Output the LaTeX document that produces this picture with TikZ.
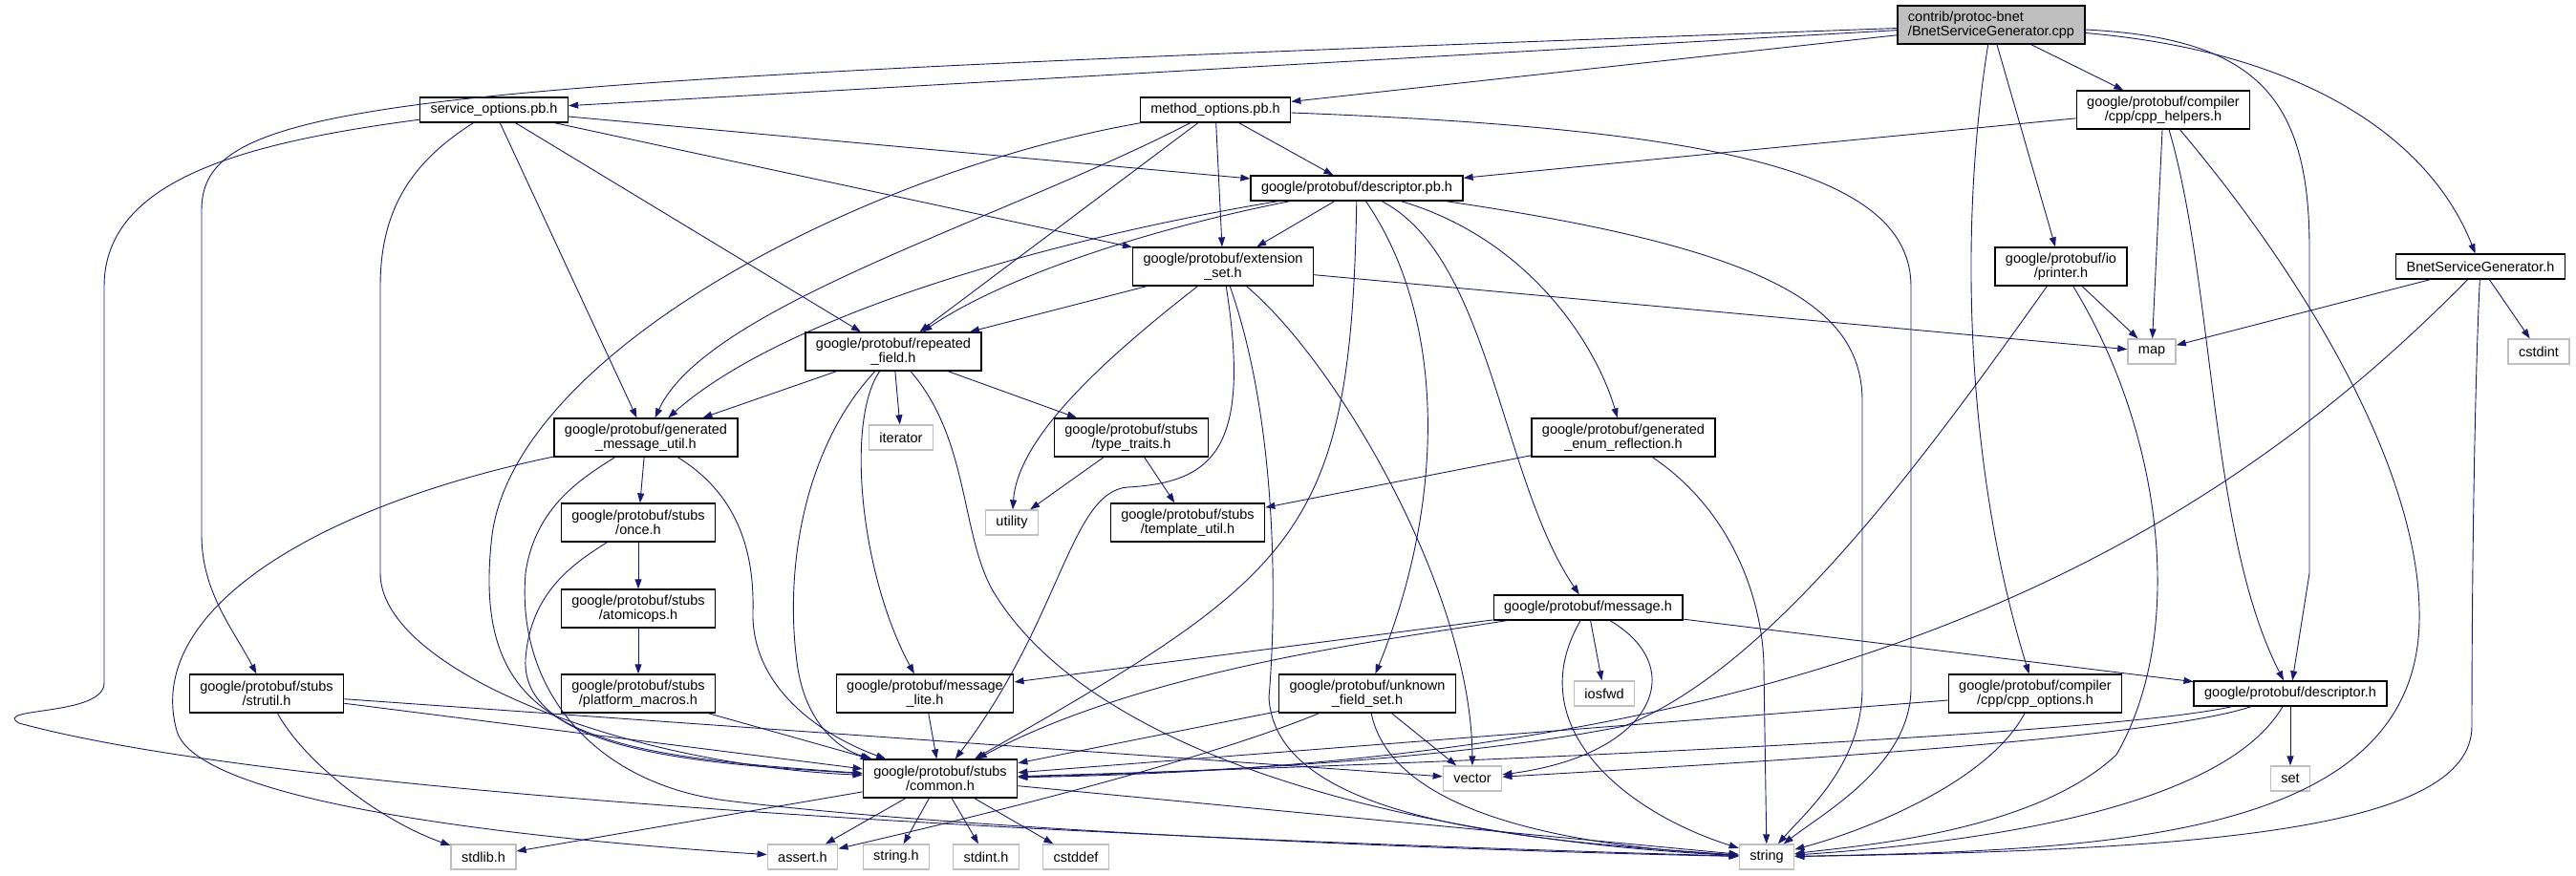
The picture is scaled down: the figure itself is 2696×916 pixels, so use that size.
\documentclass[tikz,border=0pt]{standalone}
\usepackage{fontspec}
\setmainfont{Liberation Sans}
\usetikzlibrary{arrows.meta}
\definecolor{incblue}{HTML}{191970}
\definecolor{sysgray}{HTML}{BFBFBF}
\begin{document}
\begin{tikzpicture}[x=1pt,y=-1pt,
  hdr/.style={draw=black,line width=1.3pt,fill=white,align=center,
    font=\fontsize{14.5}{15}\selectfont,inner xsep=11pt,inner ysep=2pt,
    minimum height=26pt},
  tall/.style={minimum height=40pt},
  sys/.style={hdr,draw=sysgray},
  inc/.style={draw=incblue,line width=0.9pt,-{Triangle[length=10pt,width=7pt]}}]
\useasboundingbox (0,0) rectangle (2696,916);

\node[hdr,tall,fill=sysgray,align=left] (root) at (2084,26) {contrib/protoc-bnet\\/BnetServiceGenerator.cpp};
\node[hdr] (svc) at (517,115) {service\_options.pb.h};
\node[hdr] (mth) at (1272,115) {method\_options.pb.h};
\node[hdr,tall] (cpph) at (2264,115) {google/protobuf/compiler\\/cpp/cpp\_helpers.h};
\node[hdr] (dpb) at (1420,197) {google/protobuf/descriptor.pb.h};
\node[hdr,tall] (ext) at (1280,279) {google/protobuf/extension\\\_set.h};
\node[hdr,tall] (prn) at (2157,279) {google/protobuf/io\\/printer.h};
\node[hdr] (bnh) at (2596,279) {BnetServiceGenerator.h};
\node[hdr,tall] (rep) at (935,368) {google/protobuf/repeated\\\_field.h};
\node[sys] (map) at (2252,368) {map};
\node[sys] (cstdint) at (2657,368) {cstdint};
\node[hdr,tall] (gmu) at (676,458) {google/protobuf/generated\\\_message\_util.h};
\node[sys] (iter) at (943,458) {iterator};
\node[hdr,tall] (tt) at (1184,458) {google/protobuf/stubs\\/type\_traits.h};
\node[hdr,tall] (enr) at (1699,458) {google/protobuf/generated\\\_enum\_reflection.h};
\node[hdr,tall] (once) at (668,547) {google/protobuf/stubs\\/once.h};
\node[sys] (util) at (1059,547) {utility};
\node[hdr,tall] (tu) at (1243,547) {google/protobuf/stubs\\/template\_util.h};
\node[hdr,tall] (atom) at (668,637) {google/protobuf/stubs\\/atomicops.h};
\node[hdr] (msg) at (1662,636) {google/protobuf/message.h};
\node[hdr,tall] (strutil) at (279,726) {google/protobuf/stubs\\/strutil.h};
\node[hdr,tall] (plat) at (668,726) {google/protobuf/stubs\\/platform\_macros.h};
\node[hdr,tall] (mlite) at (968,726) {google/protobuf/message\\\_lite.h};
\node[hdr,tall] (ufs) at (1431,726) {google/protobuf/unknown\\\_field\_set.h};
\node[sys] (iosfwd) at (1679,726) {iosfwd};
\node[hdr,tall] (cppo) at (2130,726) {google/protobuf/compiler\\/cpp/cpp\_options.h};
\node[hdr] (dh) at (2397,726) {google/protobuf/descriptor.h};
\node[hdr,tall] (common) at (984,815) {google/protobuf/stubs\\/common.h};
\node[sys] (vector) at (1541,815) {vector};
\node[sys] (set) at (2397,815) {set};
\node[sys] (stdlib) at (506,897) {stdlib.h};
\node[sys] (assert) at (840,897) {assert.h};
\node[sys] (stringh) at (938,897) {string.h};
\node[sys] (stdint) at (1032,897) {stdint.h};
\node[sys] (cstddef) at (1126,897) {cstddef};
\node[sys] (string) at (1849,897) {string};

\draw[inc] (root) -- (svc);
\draw[inc] (root) -- (mth);
\draw[inc] (root) .. controls (420,86) and (211,100) .. (211,220) -- (211,560) .. controls (211,620) and (245,660) .. (strutil);
\draw[inc] (root) .. controls (2048,250) and (2060,500) .. (cppo);
\draw[inc] (root) -- (prn);
\draw[inc] (root) -- (cpph);
\draw[inc] (root) .. controls (2360,40) and (2417,100) .. (2417,260) -- (2417,600) -- (dh);
\draw[inc] (root) .. controls (2420,55) and (2545,150) .. (bnh);

\draw[inc] (svc) -- (dpb);
\draw[inc] (svc) -- (ext);
\draw[inc] (svc) -- (rep);
\draw[inc] (svc) -- (gmu);
\draw[inc] (svc) .. controls (430,170) and (398,220) .. (398,300) -- (398,600) .. controls (398,700) and (650,800) .. (common);
\draw[inc] (svc) .. controls (250,150) and (109,190) .. (109,300) -- (109,715) .. controls (109,750) and (-10,740) .. (20,757) .. controls (250,820) and (900,870) .. (string);

\draw[inc] (mth) -- (dpb);
\draw[inc] (mth) -- (ext);
\draw[inc] (mth) -- (rep);
\draw[inc] (mth) .. controls (1050,230) and (740,320) .. (gmu);
\draw[inc] (mth) .. controls (900,180) and (540,370) .. (515,560) .. controls (490,770) and (620,790) .. (common);
\draw[inc] (mth) .. controls (1800,135) and (2000,180) .. (2000,300) -- (2000,720) .. controls (2000,800) and (1910,850) .. (string);

\draw[inc] (cpph) -- (dpb);
\draw[inc] (cpph) -- (map);
\draw[inc] (cpph) .. controls (2318,300) and (2312,560) .. (dh);
\draw[inc] (cpph) .. controls (2420,300) and (2535,500) .. (2532,650) .. controls (2528,880) and (2200,890) .. (string);

\draw[inc] (dpb) -- (ext);
\draw[inc] (dpb) .. controls (1200,240) and (1050,290) .. (rep);
\draw[inc] (dpb) .. controls (1100,250) and (820,330) .. (gmu);
\draw[inc] (dpb) .. controls (1414,560) and (1360,600) .. (common);
\draw[inc] (dpb) .. controls (1560,270) and (1570,500) .. (msg);
\draw[inc] (dpb) .. controls (1512,330) and (1515,520) .. (ufs);
\draw[inc] (dpb) .. controls (1600,250) and (1670,360) .. (enr);
\draw[inc] (dpb) .. controls (1850,260) and (1949,320) .. (1949,420) -- (1949,720) .. controls (1949,800) and (1890,850) .. (string);

\draw[inc] (ext) -- (rep);
\draw[inc] (ext) -- (map);
\draw[inc] (ext) .. controls (1150,380) and (1065,460) .. (util);
\draw[inc] (ext) .. controls (1310,470) and (1270,505) .. (1180,510) .. controls (1120,515) and (1110,650) .. (common);
\draw[inc] (ext) .. controls (1340,450) and (1335,650) .. (1328,730) .. controls (1335,860) and (1600,880) .. (string);
\draw[inc] (ext) .. controls (1400,380) and (1540,620) .. (vector);

\draw[inc] (prn) -- (map);
\draw[inc] (prn) .. controls (2000,500) and (1850,700) .. (1700,760) .. controls (1500,800) and (1200,810) .. (common);
\draw[inc] (prn) .. controls (2262,450) and (2290,660) .. (2215,790) .. controls (2130,870) and (1950,885) .. (string);

\draw[inc] (bnh) -- (map);
\draw[inc] (bnh) -- (cstdint);
\draw[inc] (bnh) .. controls (2300,580) and (1900,800) .. (common);
\draw[inc] (bnh) .. controls (2590,400) and (2587,600) .. (2587,760) .. controls (2587,870) and (2300,890) .. (string);

\draw[inc] (rep) -- (gmu);
\draw[inc] (rep) -- (iter);
\draw[inc] (rep) -- (tt);
\draw[inc] (rep) .. controls (885,440) and (900,600) .. (mlite);
\draw[inc] (rep) .. controls (840,470) and (820,600) .. (835,700) .. controls (845,760) and (880,785) .. (common);
\draw[inc] (rep) .. controls (1015,460) and (1005,560) .. (1040,620) .. controls (1150,800) and (1500,880) .. (string);

\draw[inc] (gmu) -- (once);
\draw[inc] (gmu) .. controls (760,510) and (790,560) .. (788,640) .. controls (786,720) and (860,770) .. (common);
\draw[inc] (gmu) .. controls (330,530) and (150,640) .. (185,765) .. controls (205,835) and (500,875) .. (assert);
\draw[inc] (gmu) .. controls (610,500) and (560,530) .. (550,600) .. controls (540,720) and (620,820) .. (760,838) .. controls (1000,868) and (1500,890) .. (string);

\draw[inc] (tt) -- (util);
\draw[inc] (tt) -- (tu);
\draw[inc] (enr) -- (tu);
\draw[inc] (enr) .. controls (1820,540) and (1846,640) .. (1846,700) -- (string);

\draw[inc] (once) -- (atom);
\draw[inc] (once) .. controls (600,590) and (555,620) .. (550,690) .. controls (545,790) and (750,800) .. (common);
\draw[inc] (atom) -- (plat);
\draw[inc] (plat) -- (common);

\draw[inc] (strutil) -- (common);
\draw[inc] (strutil) -- (vector);
\draw[inc] (strutil) .. controls (320,800) and (400,860) .. (stdlib);

\draw[inc] (msg) -- (mlite);
\draw[inc] (msg) .. controls (1450,670) and (1200,700) .. (common);
\draw[inc] (msg) -- (iosfwd);
\draw[inc] (msg) .. controls (1770,700) and (1730,790) .. (vector);
\draw[inc] (msg) .. controls (1590,760) and (1700,850) .. (string);
\draw[inc] (msg) -- (dh);

\draw[inc] (mlite) -- (common);

\draw[inc] (ufs) -- (common);
\draw[inc] (ufs) -- (vector);
\draw[inc] (ufs) .. controls (1250,800) and (1000,860) .. (assert);
\draw[inc] (ufs) .. controls (1450,820) and (1550,880) .. (string);

\draw[inc] (cppo) -- (common);
\draw[inc] (cppo) .. controls (2080,820) and (1950,870) .. (string);

\draw[inc] (dh) .. controls (2200,770) and (1500,800) .. (common);
\draw[inc] (dh) .. controls (2250,775) and (1800,800) .. (vector);
\draw[inc] (dh) -- (set);
\draw[inc] (dh) .. controls (2330,840) and (2100,880) .. (string);

\draw[inc] (common) -- (assert);
\draw[inc] (common) -- (stdlib);
\draw[inc] (common) -- (stringh);
\draw[inc] (common) -- (stdint);
\draw[inc] (common) -- (cstddef);
\draw[inc] (common) -- (string);
\end{tikzpicture}
\end{document}
